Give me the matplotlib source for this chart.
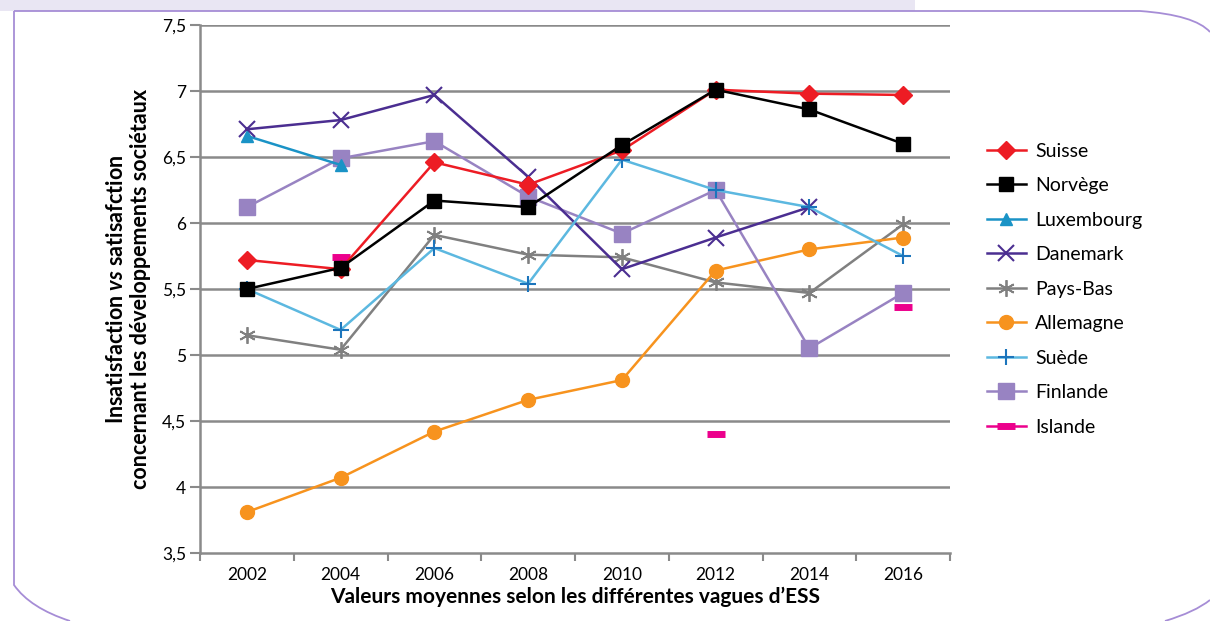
import numpy as np
import matplotlib
matplotlib.use("Agg")
import matplotlib.pyplot as plt
from matplotlib.path import Path
from matplotlib.patches import PathPatch, Rectangle

plt.rcParams['font.family'] = ['Lato', 'DejaVu Sans']
plt.rcParams['mathtext.fontset'] = 'custom'
plt.rcParams['mathtext.it'] = 'Lato:italic:bold'

years = ["2002", "2004", "2006", "2008", "2010", "2012", "2014", "2016"]
nan = np.nan
suisse = [5.72, 5.65, 6.46, 6.29, 6.55, 7.01, 6.98, 6.97]
norvege = [5.50, 5.66, 6.17, 6.12, 6.59, 7.01, 6.86, 6.60]
luxembourg = [6.66, 6.44, nan, nan, nan, nan, nan, nan]
danemark = [6.71, 6.78, 6.97, 6.35, 5.65, 5.89, 6.12, nan]
pays_bas = [5.15, 5.04, 5.91, 5.76, 5.74, 5.55, 5.47, 5.99]
allemagne = [3.81, 4.07, 4.42, 4.66, 4.81, 5.64, 5.80, 5.89]
suede = [5.50, 5.19, 5.81, 5.54, 6.48, 6.25, 6.12, 5.75]
finlande = [6.12, 6.49, 6.62, 6.20, 5.92, 6.25, 5.05, 5.47]
islande = [nan, 5.74, nan, nan, nan, 4.40, nan, 5.36]

fig = plt.figure(figsize=(12.1, 6.21), dpi=100)
W, H = 1210, 621
ax = fig.add_axes([200 / W, 1 - 553 / H, 750 / W, 528 / H])

x = np.arange(len(years))
grid_c = "#8a8a8a"
for v in np.arange(4.0, 7.51, 0.5):
    ax.axhline(v, color=grid_c, lw=1.8, zorder=1)

ax.plot(x, suisse, color="#ED1C24", lw=1.8, marker="D", ms=9, label="Suisse", zorder=5)
ax.plot(x, norvege, color="black", lw=1.8, marker="s", ms=10.5, label="Norvège", zorder=6)
ax.plot(x, luxembourg, color="#1A93C6", lw=1.8, marker="^", ms=9, label="Luxembourg", zorder=4)
ax.plot(x, danemark, color="#4B2E91", lw=1.8, marker="x", ms=11, mew=1.5, label="Danemark", zorder=4)
ax.plot(x, pays_bas, color="#808080", lw=1.8, marker=(6, 2, 0), ms=12, mew=1.3, label="Pays-Bas", zorder=3)
ax.plot(x, allemagne, color="#F7931E", lw=1.8, marker="o", ms=10, label="Allemagne", zorder=3)
ax.plot(x, suede, color="#5CB8E0", lw=1.8, marker="+", ms=12, mew=1.5,
        mec="#1C75BC", label="Suède", zorder=4)
ax.plot(x, finlande, color="#9883C2", lw=1.8, marker="s", ms=11, label="Finlande", zorder=3)
ax.plot(x, islande, color="#EC008C", lw=1.8, marker="_", ms=13, mew=5, label="Islande", zorder=4)

ax.set_xlim(-0.5, len(years) - 0.5)
ax.set_ylim(3.5, 7.5)
ax.set_yticks(np.arange(3.5, 7.51, 0.5))
ax.set_yticklabels([f"{v:g}".replace(".", ",") for v in np.arange(3.5, 7.51, 0.5)], fontsize=12.5)
ax.set_xticks(x)
ax.set_xticklabels(years, fontsize=12.5)
ax.set_xticks(np.arange(-0.5, len(years)), minor=True)
ax.tick_params(axis="x", which="major", length=0, pad=10)
ax.tick_params(axis="x", which="minor", length=6, color=grid_c, width=1.5)
ax.tick_params(axis="y", length=7, color=grid_c, width=1.5, pad=3)

for s in ["top", "right"]:
    ax.spines[s].set_visible(False)
for s in ["left", "bottom"]:
    ax.spines[s].set_color(grid_c)
    ax.spines[s].set_linewidth(1.8)

ax.set_xlabel("Valeurs moyennes selon les différentes vagues d\u2019ESS",
              fontsize=15, fontweight="bold", labelpad=3)
ax.set_ylabel("Insatisfaction $\\it{vs}$ satisafction\nconcernant les développements sociétaux",
              fontsize=15.5, fontweight="bold", labelpad=8, linespacing=1.15)

fig.legend(loc="upper left", bbox_to_anchor=(979 / W, 1 - 135 / H), frameon=False,
           fontsize=14, handlelength=2.0, labelspacing=0.9, handletextpad=0.5,
           borderaxespad=0)

# title strip and rounded frame
fig.patches.append(Rectangle((0, 1 - 11 / H), 915 / W, 11 / H, transform=fig.transFigure,
                             facecolor="#E9E6F3", edgecolor="none", zorder=0))
verts = [(14, 11), (1140, 11), (1195, 15), (1210, 32),
         (1210, 600), (1195, 612), (1165, 621),
         (70, 621), (30, 608), (14, 585), (14, 11)]
codes = [Path.MOVETO, Path.LINETO, Path.CURVE3, Path.CURVE3,
         Path.MOVETO, Path.CURVE3, Path.CURVE3,
         Path.MOVETO, Path.CURVE3, Path.CURVE3, Path.LINETO]
verts = [(vx / W, 1 - vy / H) for vx, vy in verts]
fig.patches.append(PathPatch(Path(verts, codes), transform=fig.transFigure, facecolor="none",
                             edgecolor="#A68DD6", lw=1.3))

fig.savefig("out.png", dpi=100)
